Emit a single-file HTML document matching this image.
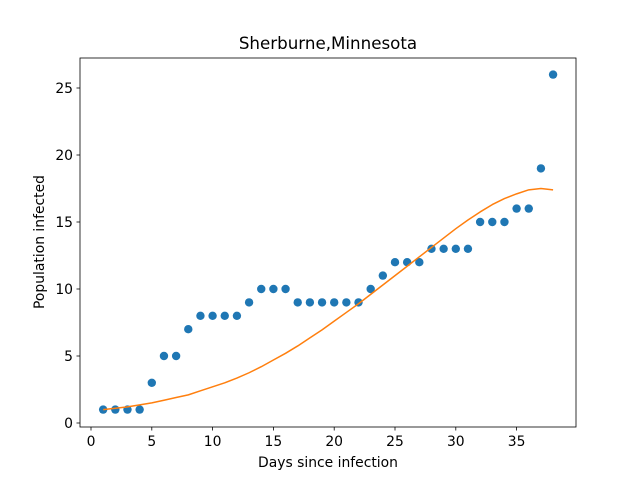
<!DOCTYPE html>
<html><head><meta charset="utf-8"><style>
body{margin:0;background:#fff;font-family:"DejaVu Sans","Liberation Sans",sans-serif;}
svg text{font-family:"DejaVu Sans","Liberation Sans",sans-serif;fill:#000;}
</style></head><body>
<svg id="chart" width="640" height="480">
<rect width="640" height="480" fill="#fff"/>
<text x="328" y="49" font-size="16.7" text-anchor="middle">Sherburne,Minnesota</text>
<g id="marks"></g>
<rect x="80" y="58" width="496" height="369" fill="none" stroke="#000" stroke-width="0.8"/>
<g id="axes"></g>
<text x="328" y="467" font-size="13.9" text-anchor="middle">Days since infection</text>
<text transform="translate(44,242) rotate(-90)" font-size="13.9" text-anchor="middle">Population infected</text>
</svg>
<script>
const days = [1,2,3,4,5,6,7,8,9,10,11,12,13,14,15,16,17,18,19,20,21,22,23,24,25,26,27,28,29,30,31,32,33,34,35,36,37,38];
const infected = [1,1,1,1,3,5,5,7,8,8,8,8,9,10,10,10,9,9,9,9,9,9,10,11,12,12,12,13,13,13,13,15,15,15,16,16,19,26];
const fitValues = [1.0,1.1,1.2,1.35,1.5,1.7,1.9,2.1,2.4,2.7,3.0,3.35,3.75,4.2,4.7,5.2,5.75,6.35,6.95,7.6,8.25,8.9,9.6,10.3,11.0,11.7,12.4,13.1,13.8,14.5,15.15,15.75,16.3,16.75,17.1,17.4,17.5,17.4];
const xTicks = [0,5,10,15,20,25,30,35];
const yTicks = [0,5,10,15,20,25];
const ns="http://www.w3.org/2000/svg";
const sx = v => 91 + v*12.16;
const sy = v => 423 - v*13.4;
const marks=document.getElementById('marks'), axes=document.getElementById('axes');
function mk(tag,attrs,parent){const e=document.createElementNS(ns,tag);for(const k in attrs)e.setAttribute(k,attrs[k]);parent.appendChild(e);return e;}
days.forEach((d,i)=>{
  const c=mk('circle',{cx:sx(d),cy:sy(infected[i]),r:4.2,fill:'#1f77b4'},marks);
  
  
});
const p=mk('polyline',{points:days.map((d,i)=>sx(d)+','+sy(fitValues[i])).join(' '),fill:'none',stroke:'#ff7f0e','stroke-width':1.5,'stroke-linejoin':'round'},marks);


xTicks.forEach(t=>{
  const l=mk('line',{x1:sx(t),x2:sx(t),y1:427,y2:430.5,stroke:'#000','stroke-width':0.8},axes);
  
  
  const tx=mk('text',{x:sx(t),y:446,'font-size':13.9,'text-anchor':'middle'},axes);
  tx.textContent=t;
  
  
});
yTicks.forEach(t=>{
  const l=mk('line',{x1:76.5,x2:80,y1:sy(t),y2:sy(t),stroke:'#000','stroke-width':0.8},axes);
  
  
  const tx=mk('text',{x:73,y:sy(t)+5,'font-size':13.9,'text-anchor':'end'},axes);
  tx.textContent=t;
  
  
});
</script>
</body></html>
